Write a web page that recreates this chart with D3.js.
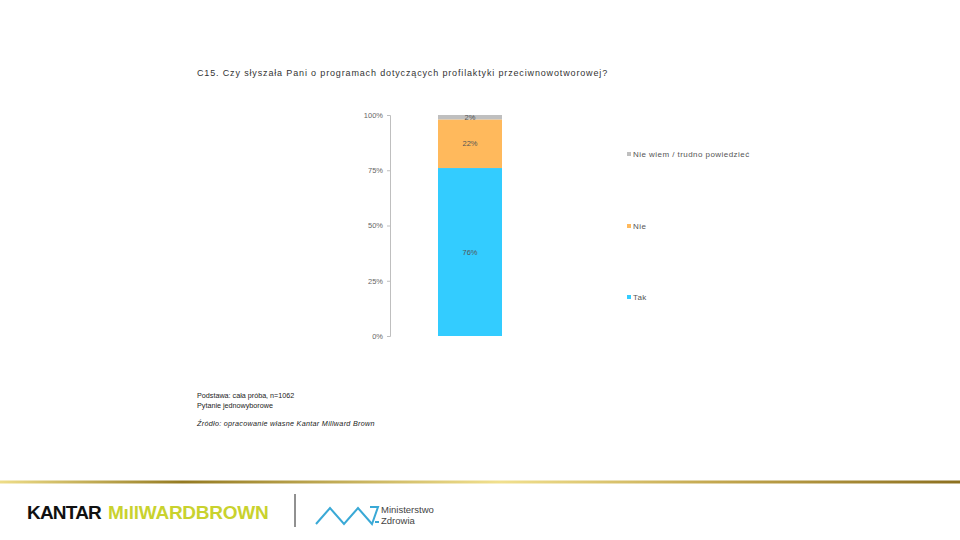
<!DOCTYPE html>
<html>
<head>
<meta charset="utf-8">
<script src="https://cdn.jsdelivr.net/npm/d3@7"></script>
<style>
  body { margin: 0; background: #fff; }
  svg { display: block; font-family: "Liberation Sans", Arial, sans-serif; }
</style>
</head>
<body>
<div id="chart"></div>
<script>

// data
var seriesNames = ['Tak', 'Nie', 'Nie wiem / trudno powiedzieć'];
var seriesValues = [76, 22, 2];
var seriesColors = ['#33ccff', '#ffb95c', '#bfbfbf'];
var yTicks = [0, 25, 50, 75, 100];
var titleText = 'C15. Czy słyszała Pani o programach dotyczących profilaktyki przeciwnowotworowej?';
var footNotes = ['Podstawa: cała próba, n=1062', 'Pytanie jednowyborowe'];
var sourceText = 'Źródło: opracowanie własne Kantar Millward Brown';

var svg = d3.select('#chart').append('svg')
  .attr('width', 960)
  .attr('height', 540);

// title
svg.append('text')
  .attr('x', 197).attr('y', 76)
  .style('font-size', '9px')
  .style('letter-spacing', '0.85px')
  .style('fill', '#333')
  .text(titleText);

// scales
var y = d3.scaleLinear().domain([0, 100]).range([336, 115]);

// axis
var yAxis = d3.axisLeft(y).tickValues(yTicks).tickFormat(function(d) { return d + '%'; }).tickSize(3).tickPadding(4);
var gAxis = svg.append('g').attr('transform', 'translate(390,0)').call(yAxis);
gAxis.select('.domain').style('stroke', '#bfbfbf');
gAxis.selectAll('.tick line').style('stroke', '#bfbfbf');
gAxis.selectAll('.tick text')
  .style('font-size', '7.5px')
  .style('fill', '#666')
  .style('font-family', '"Liberation Sans", Arial, sans-serif');

// stacked bar
var row = {};
seriesNames.forEach(function(s, i) { row[s] = seriesValues[i]; });
var stacked = d3.stack().keys(seriesNames)([row]);

var barX = 438, barW = 64;
svg.selectAll('.seg')
  .data(stacked)
  .enter().append('rect')
    .attr('class', 'seg')
    .attr('x', barX)
    .attr('width', barW)
    .attr('y', function(d) { return y(d[0][1]); })
    .attr('height', function(d) { return y(d[0][0]) - y(d[0][1]); })
    .style('fill', function(d, i) { return seriesColors[i]; });

svg.selectAll('.segLabel')
  .data(stacked)
  .enter().append('text')
    .attr('class', 'segLabel')
    .attr('x', barX + barW / 2)
    .attr('y', function(d) { return (y(d[0][0]) + y(d[0][1])) / 2 + 2.5; })
    .attr('text-anchor', 'middle')
    .style('font-size', '7.5px')
    .style('fill', '#555')
    .text(function(d, i) { return seriesValues[i] + '%'; });

// legend (top entry is last series)
var legendY = [298, 227, 155];
seriesNames.forEach(function(s, i) {
  svg.append('rect')
    .attr('x', 627).attr('y', legendY[i] - 3)
    .attr('width', 4).attr('height', 4)
    .style('fill', seriesColors[i]);
  svg.append('text')
    .attr('x', 633).attr('y', legendY[i] + 1.5)
    .style('font-size', '8px')
    .style('letter-spacing', '0.45px')
    .style('fill', '#555')
    .text(s);
});

// footnotes
footNotes.forEach(function(t, i) {
  svg.append('text')
    .attr('x', 197).attr('y', 398 + i * 10)
    .style('font-size', '7.2px')
    .style('fill', '#222')
    .text(t);
});
svg.append('text')
  .attr('x', 197).attr('y', 426)
  .style('font-size', '7.2px')
  .style('font-style', 'italic')
  .style('letter-spacing', '0.3px')
  .style('fill', '#222')
  .text(sourceText);

// gold rule
var grad = svg.append('defs').append('linearGradient').attr('id', 'gold');
[[0, '#eedd88'], [0.19, '#947a22'], [0.52, '#f1e08e'], [0.75, '#c2a64e'], [1, '#8c7020']].forEach(function(s) {
  grad.append('stop').attr('offset', s[0]).attr('stop-color', s[1]);
});
svg.append('rect').attr('x', 0).attr('y', 480.5).attr('width', 960).attr('height', 3).style('fill', 'url(#gold)');

// logos
svg.append('text')
  .attr('x', 27).attr('y', 519)
  .style('font-size', '19px').style('font-weight', 'bold')
  .style('letter-spacing', '-0.8px')
  .style('fill', '#111')
  .text('KANTAR');
svg.append('text')
  .attr('x', 108).attr('y', 519)
  .style('font-size', '19px').style('font-weight', 'bold')
  .style('letter-spacing', '-0.8px')
  .style('fill', '#c9d22e')
  .attr('textLength', 160)
  .text('MıllWARDBROWN');

svg.append('line')
  .attr('x1', 295).attr('x2', 295).attr('y1', 494).attr('y2', 527)
  .style('stroke', '#222').style('stroke-width', 1);

svg.append('path')
  .attr('d', 'M316,524 L330,508 L344,524 L358,508 L372,524 L378,507 L370,507')
  .style('fill', 'none').style('stroke', '#3aa9d6').style('stroke-width', 2);
svg.append('text')
  .attr('x', 381).attr('y', 513)
  .style('font-size', '9.5px').style('fill', '#444')
  .text('Ministerstwo');
svg.append('text')
  .attr('x', 381).attr('y', 524)
  .style('font-size', '9.5px').style('fill', '#444')
  .text('Zdrowia');
svg.append('rect').attr('x', 375).attr('y', 521).attr('width', 4).attr('height', 2).style('fill', '#3aa9d6');

</script>
</body>
</html>
